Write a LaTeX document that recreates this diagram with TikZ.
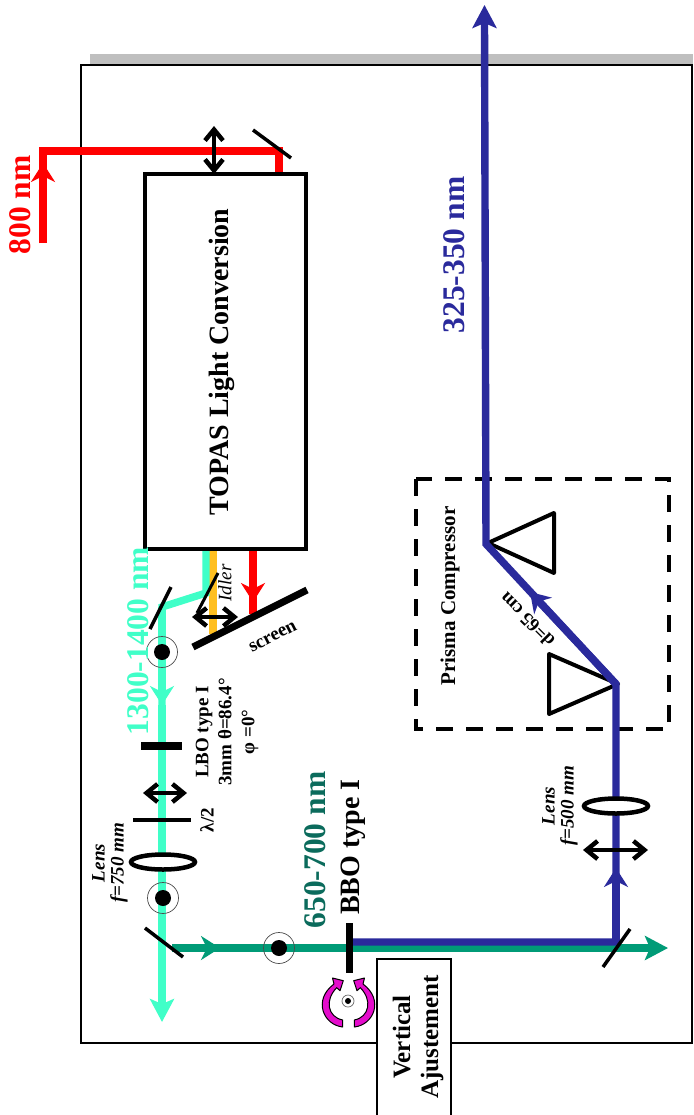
\documentclass[tikz,border=0pt]{standalone}
\usepackage{fontspec}
\setmainfont{Liberation Serif}
\usetikzlibrary{arrows.meta, positioning, calc, shapes.geometric}

\definecolor{pumpred}{HTML}{FF0000}
\definecolor{signalcyan}{HTML}{40FFC8}
\definecolor{idlerorange}{HTML}{FFBF20}
\definecolor{shgreen}{HTML}{009B77}
\definecolor{shgreendark}{HTML}{0B6B5C}
\definecolor{uvblue}{HTML}{2A2A9C}
\definecolor{rotmagenta}{HTML}{E40CCB}
\definecolor{tablegray}{HTML}{BFBFBF}

\newcommand{\fsz}[1]{\fontsize{#1}{#1}\selectfont}

\begin{document}
\begin{tikzpicture}[
    x=1pt, y=-1pt,
    beam/.style={line width=7.4pt},
    beamhead/.style={line width=7.4pt, -{Stealth[length=19pt,width=24pt,inset=6pt]}},
    beamend/.style={line width=7.4pt, -{Stealth[length=23pt,width=24pt,inset=5pt]}},
    optic/.style={draw=black, line width=3.5pt},
    crystal/.style={draw=black, line width=7pt},
    dblarrow/.style={line width=3.6pt, {Straight Barb[length=11pt,width=18pt,line width=4.5pt]}-{Straight Barb[length=11pt,width=18pt,line width=4.5pt]}},
    lens/.style={draw=black, fill=white, ellipse, line width=4.5pt, inner sep=0pt, minimum width=64pt, minimum height=15pt},
    polring/.style={draw=black!70, circle, line width=0.7pt, minimum size=31pt, inner sep=0pt},
    poldot/.style={fill=black, circle, minimum size=16pt, inner sep=0pt},
    wave/.style={rotate=90, anchor=base, font=\fsz{31.5}\bfseries},
    note/.style={rotate=90, font=\fsz{19}\bfseries, align=center},
    lensnote/.style={rotate=90, font=\fsz{19}\bfseries\itshape, align=center},
    prism/.style={draw=black, line width=4pt, line join=round},
]
    \useasboundingbox (0,0) rectangle (693,1115);
    \fill[white] (0,0) rectangle (693,1115);

    % table
    \fill[tablegray] (90,54) rectangle (693,65);
    \draw[line width=1.5pt] (81,65) rectangle (692,1043);
    \node[draw, fill=white, line width=1.5pt, inner sep=0pt, minimum width=170pt, minimum height=74pt, rotate=90] (vertbox) at (414,1044) {};
    \node[rotate=90, font=\fsz{25}\bfseries, align=center] (vertlabel) at (418,1037) {Vertical\\[3pt]Ajustement};

    % beam points
    \coordinate (r0) at (43,243);
    \coordinate (r1) at (43,163);
    \coordinate (r2) at (43,151);
    \coordinate (r3) at (279,151);
    \coordinate (r4) at (279,176);
    \coordinate (cy0) at (206,549);
    \coordinate (cy1) at (206,593);
    \coordinate (cy2) at (162,607);
    \coordinate (cy3) at (162,705);
    \coordinate (cy4) at (162,1022);
    \coordinate (or0) at (213,549);
    \coordinate (or1) at (213,634);
    \coordinate (rd0) at (253,549);
    \coordinate (rd1) at (253,602);
    \coordinate (rd2) at (253,614);
    \coordinate (gr0) at (172,948);
    \coordinate (gr1) at (220,948);
    \coordinate (gr2) at (668,948);
    \coordinate (bl0) at (353,942);
    \coordinate (bl1) at (616,942);
    \coordinate (bl2) at (616,868);
    \coordinate (bl3) at (616,684);
    \coordinate (bl4) at (530,592);
    \coordinate (bl5) at (486,544);
    \coordinate (bl6) at (484.5,5);

    % prisms
    \draw[prism] (488,543) -- (554,513) -- (554,573) -- cycle;
    \draw[prism] (618,684) -- (549,654) -- (549,714) -- cycle;
    \draw[line width=3.6pt, dash pattern=on 17pt off 13pt] (416,479) rectangle (669,729);

    % beams
    \draw[beam, pumpred] (r0) -- (r2) -- (r3) -- (r4);
    \draw[beamhead, pumpred] (r0) -- (r1);
    \draw[beam, idlerorange] (or0) -- (or1);
    \draw[beam, pumpred] (rd0) -- (rd2);
    \draw[beamhead, pumpred] (rd0) -- (rd1);
    \draw[beam, shgreen] (gr0) -- (655,948);
    \draw[beamhead, shgreen] (gr0) -- (gr1);
    \draw[beamend, shgreen] (gr1) -- (gr2);
    \draw[beam, signalcyan] (cy0) -- (cy1) -- (cy2) -- (162,1008);
    \draw[beamhead, signalcyan] (cy2) -- (cy3);
    \draw[beamend, signalcyan] (cy3) -- (cy4);
    \draw[beam, uvblue] (bl0) -- (bl1) -- (bl3) -- (bl5) -- (bl6|-0,20);
    \draw[beamhead, uvblue] (bl1) -- (bl2);
    \draw[beamhead, uvblue] (bl3) -- (bl4);
    \draw[beamend, uvblue] (bl6|-0,30) -- (bl6);

    % topas
    \node[draw, fill=white, line width=3.6pt, minimum width=375pt, minimum height=161pt, inner sep=0pt, rotate=90] (topas) at (225.5,361.5) {};
    \node[wave, font=\fsz{28}\bfseries] (topaslabel) at (228,362) {TOPAS Light Conversion};

    % mirrors
    \draw[optic] (253,130) -- (291,158);
    \draw[optic] (171,587) -- (150,629);
    \draw[optic, line width=3pt] (218,573) -- (197,613);
    \draw[optic] (145,928) -- (183,957);
    \draw[optic] (630,929) -- (603,967);
    \draw[crystal] (193,647) -- (307,590);

    % crystals, plates, lenses
    \draw[crystal, line width=8pt] (141,746) -- (182,746);
    \draw[optic, line width=4pt] (133,820) -- (191,820);
    \draw[crystal] (349,923) -- (349,973);
    \node[lens] (lensa) at (163,862) {};
    \node[lens] (lensb) at (616,806) {};

    % translation stages
    \draw[dblarrow] (214,126) -- (214,174);
    \draw[dblarrow] (192,617) -- (238,617);
    \draw[dblarrow] (143,793) -- (187,793);
    \draw[dblarrow] (583,850) -- (648,850);

    % polarisation out of plane
    \foreach \name/\px/\py in {pola/162/652, polb/163/898, polc/279/948} {
        \node[polring] (\name) at (\px,\py) {};
        \node[poldot] (\name dot) at (\px,\py) {};
    }
    \node[draw=black!60, circle, line width=0.7pt, minimum size=12pt, inner sep=0pt] (pold) at (348,1001) {};
    \node[fill=black, circle, minimum size=6pt, inner sep=0pt] (pold dot) at (348,1001) {};

    % rotation of the crystal
    \foreach \s in {1,-1} {
        \begin{scope}[shift={(348.5,0)}, xscale=\s]
            \draw[fill=rotmagenta, line width=1pt, line join=round] (-5.8,1027) .. controls (-25,1025) and (-36,1000) .. (-14.5,984)
                -- (-16,978) -- (-5.2,980.7) -- (-8.5,990.7) -- (-11.8,987.7)
                .. controls (-24,1000) and (-21,1017) .. (-5.8,1020) -- cycle;
        \end{scope}
    }

    % labels
    \node[wave, pumpred] (l800) at (30,205) {800 nm};
    \node[wave, signalcyan] (l1300) at (148,641) {1300-1400 nm};
    \node[wave, shgreendark] (l650) at (325,850) {650-700 nm};
    \node[wave, uvblue] (l325) at (464,255) {325-350 nm};
    \node[wave, font=\fsz{28}\bfseries] (bbolabel) at (359,847) {BBO type I};
    \node[note] (lbolabel) at (227,732) {LBO type I\\[4pt]3mm θ=86.4°\\[4pt]φ =0°};
    \node[rotate=90, font=\fsz{19}\bfseries] (halfwave) at (207,820) {λ/2};
    \node[lensnote] (lensalabel) at (110,863) {Lens\\f=750 mm};
    \node[lensnote] (lensblabel) at (560,806) {Lens\\f=500 mm};
    \node[rotate=90, font=\fsz{19}\itshape] (idlerlabel) at (225,583) {Idler};
    \node[rotate=27, font=\fsz{19}\bfseries] (screenlabel) at (273,637) {screen};
    \node[rotate=90, font=\fsz{21}\bfseries] (prismalabel) at (450,596) {Prisma Compressor};
    \node[rotate=135, font=\fsz{19}\bfseries] (dlabel) at (527,620) {d=65 cm};
\end{tikzpicture}
\end{document}
